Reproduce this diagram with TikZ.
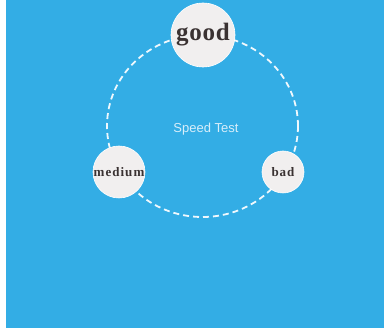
\documentclass[tikz,border=0pt]{standalone}
\usepackage{fontspec}
\setmainfont{Liberation Serif}
\newfontfamily\uisans{Liberation Sans}
\definecolor{bgblue}{HTML}{33ADE5}
\definecolor{bubble}{HTML}{F1EFEF}
\definecolor{ink}{HTML}{3A3232}
\definecolor{soft}{HTML}{D8EEFA}
\begin{document}
\begin{tikzpicture}[x=1pt,y=-1pt,
  bubblenode/.style={circle,fill=bubble,draw=white,line width=0.6pt,inner sep=0pt,text=ink,font=\bfseries},
  ring/.style={draw=white!92!bgblue,line width=1.8pt,dash pattern=on 6pt off 4pt}]
\useasboundingbox (0,0) rectangle (384,331);
\fill[white] (0,0) rectangle (384,331);
\fill[bgblue] (6,0) rectangle (384,328);
\draw[ring] (202.5,126) ellipse [x radius=95.5, y radius=91];
\node[bubblenode,minimum size=64pt,font=\bfseries\fontsize{25}{25}\selectfont\addfontfeatures{LetterSpace=3}] (good) at (203,35) {good};
\node[bubblenode,minimum size=52pt,font=\bfseries\fontsize{13}{13}\selectfont\addfontfeatures{LetterSpace=8}] (medium) at (119,172) {medium};
\node[bubblenode,minimum size=42pt,font=\bfseries\fontsize{13}{13}\selectfont\addfontfeatures{LetterSpace=6}] (bad) at (283,172) {bad};
\node[text=soft,font=\uisans\fontsize{13}{13}\selectfont] (title) at (206,129) {Speed Test};
\end{tikzpicture}
\end{document}
